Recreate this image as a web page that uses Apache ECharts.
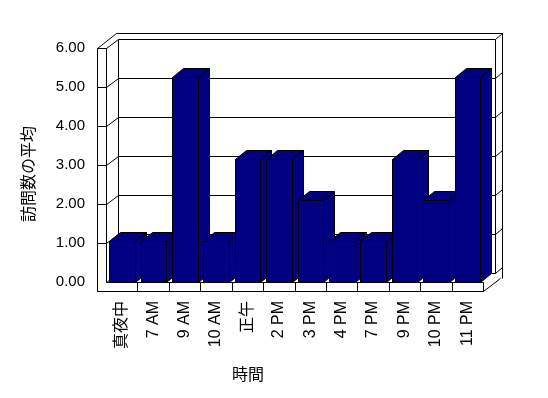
<!DOCTYPE html>
<html><head><meta charset="utf-8">
<script src="https://cdn.jsdelivr.net/npm/echarts@6/dist/echarts.min.js"></script>
<style>html,body{margin:0;padding:0;background:#fff}#c{width:548px;height:398px}</style>
</head><body><div id="c"></div>
<script>
const categories = ['真夜中','7 AM','9 AM','10 AM','正午','2 PM','3 PM','4 PM','7 PM','9 PM','10 PM','11 PM'];
const visits = [1,1,5,1,3,3,2,1,1,3,2,5];
const yTicks = [0,1,2,3,4,5,6];
const yTickLabels = ['0.00','1.00','2.00','3.00','4.00','5.00','6.00'];
const yAxisName = '訪問数の平均';
const xAxisName = '時間';

const FONT = '"Liberation Sans", "Noto Sans CJK JP", sans-serif';
const s = v => Math.round(v) + 0.5;
const LS = {stroke:'#000', lineWidth:1, fill:null};
function ln(x1,y1,x2,y2){ return {type:'line', shape:{x1:s(x1),y1:s(y1),x2:s(x2),y2:s(y2)}, style:LS}; }

function frameItem(params, api) {
  const D = [12, -9.3], T = [7, -6], W = 9;
  const n = categories.length;
  const cw = api.size([1,0])[0];
  const xL = api.coord([0,0])[0] - cw/2;
  const xR = xL + cw*n;
  const y0 = api.coord([0,0])[1];
  const y6 = api.coord([0,yTicks[yTicks.length-1]])[1];
  const xo = xL - W;
  const c = [];
  c.push(ln(xo,y6,xo,y0+W));
  c.push(ln(xL,y6,xL,y0));
  c.push(ln(xo,y6,xL,y6));
  c.push(ln(xo,y0+W,xR,y0+W));
  c.push(ln(xL,y0,xR,y0));
  c.push(ln(xR,y0,xR,y0+W));
  for (let k=1;k<n;k++) c.push(ln(xL+k*cw,y0,xL+k*cw,y0+W));
  yTicks.forEach(v => { const y = api.coord([0,v])[1]; if (v>0 && v<6) c.push(ln(xo,y,xL,y)); });
  yTicks.forEach(v => { const y = api.coord([0,v])[1]; c.push(ln(xL,y,xL+D[0],y+D[1])); });
  c.push(ln(xo,y6,xo+D[0]+T[0],y6+D[1]+T[1]));
  c.push(ln(xo+D[0]+T[0],y6+D[1]+T[1],xR+D[0]+T[0],y6+D[1]+T[1]));
  c.push(ln(xL+D[0],y6+D[1],xR+D[0],y6+D[1]));
  c.push(ln(xL+D[0],y6+D[1],xL+D[0],y0+D[1]));
  c.push(ln(xR+D[0],y6+D[1],xR+D[0],y0+D[1]));
  c.push(ln(xL+D[0],y0+D[1],xR+D[0],y0+D[1]));
  yTicks.forEach(v => {
    const y = api.coord([0,v])[1];
    if (v>0 && v<6) c.push(ln(xL+D[0],y+D[1],xR+D[0],y+D[1]));
    c.push(ln(xR+D[0],y+D[1],xR+D[0]+T[0],y+D[1]+T[1]));
  });
  c.push(ln(xR+D[0]+T[0],y6+D[1]+T[1],xR+D[0]+T[0],y0+W+D[1]+T[1]*0.6));
  c.push(ln(xR,y0+W,xR+D[0]+T[0]*0.7,y0+W+D[1]+T[1]*0.6));
  return {type:'group', children:c};
}

function barItem(params, api) {
  const i = api.value(0), v = api.value(1);
  const cw = api.size([1,0])[0];
  const base = api.coord([i,0]), top = api.coord([i,v]);
  const cs = base[0] - cw/2;
  const xa = Math.round(cs + cw*0.1) + 0.5;
  const xb = Math.round(cs + cw*0.1 + cw*0.815) + 0.5;
  const y0 = Math.round(base[1]) + 0.5, yb = Math.round(top[1]) + 0.5;
  const B = [Math.round(cw*0.366), -9];
  const st = {fill:'#000080', stroke:'#000', lineWidth:1};
  return {type:'group', children:[
    {type:'polygon', shape:{points:[[xb,yb],[xb+B[0],yb+B[1]],[xb+B[0],y0+B[1]],[xb,y0]]}, style:st},
    {type:'polygon', shape:{points:[[xa,yb],[xb,yb],[xb+B[0],yb+B[1]],[xa+B[0],yb+B[1]]]}, style:st},
    {type:'polygon', shape:{points:[[xa,y0],[xa,yb],[xb,yb],[xb,y0]]}, style:st}
  ]};
}

const chart = echarts.init(document.getElementById('c'), null, {renderer:'canvas'});
chart.setOption({
  animation:false,
  backgroundColor:'#fff',
  grid:{left:106, right:65, top:48, bottom:116, containLabel:false},
  xAxis:{type:'category', data:categories, axisLine:{show:false}, axisTick:{show:false}, splitLine:{show:false},
    axisLabel:{rotate:90, interval:0, margin:19, color:'#000', fontSize:16, fontFamily:FONT}},
  yAxis:[
    {type:'value', min:0, max:6, interval:1, axisLine:{show:false}, axisTick:{show:false}, splitLine:{show:false},
     axisLabel:{margin:21, color:'#000', fontSize:15, fontFamily:FONT, formatter:v => yTickLabels[yTicks.indexOf(v)]}},
    {type:'value', min:0, max:5.7, show:false, splitLine:{show:false}}
  ],
  graphic:[
    {type:'text', x:30, y:174, rotation:Math.PI/2, style:{text:yAxisName, fill:'#000', font:'16px ' + FONT, align:'center', verticalAlign:'middle'}},
    {type:'text', x:248, y:376, style:{text:xAxisName, fill:'#000', font:'16px ' + FONT, align:'center', verticalAlign:'middle'}}
  ],
  series:[
    {type:'custom', name:'frame', silent:true, renderItem:frameItem, data:[[0,0]], z:1},
    {type:'custom', name:'訪問数の平均', yAxisIndex:1, renderItem:barItem, z:2,
     data:visits.map((v,i)=>[i,v])}
  ]
});
</script></body></html>
